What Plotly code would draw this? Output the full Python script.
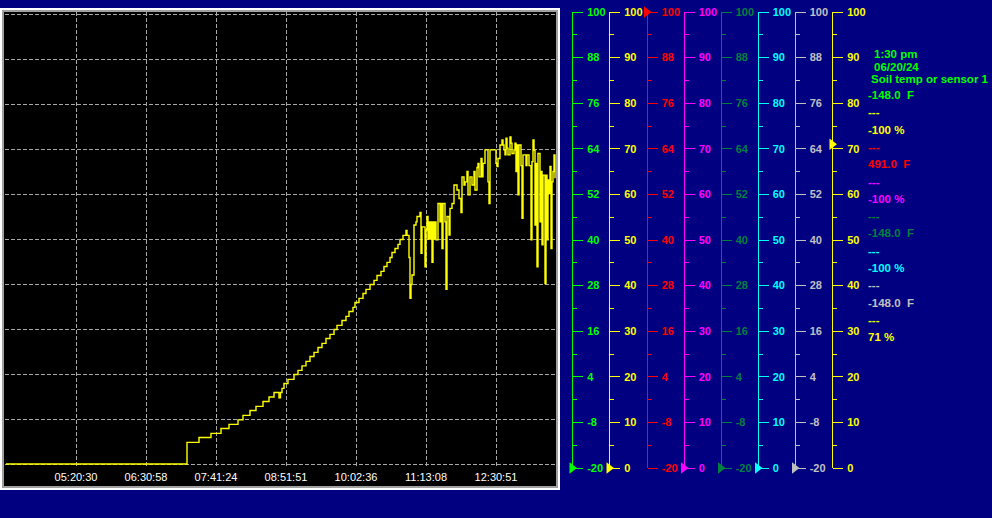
import plotly.graph_objects as go

W, H = 992, 518

# ---------------- data ----------------
# logged sensor trace (sample index, value on the 0-100 scale)
sample = [0, 181, 193, 205, 215, 223, 232, 237, 244, 250, 257, 263, 268, 273, 274.5, 276, 278, 282,
          288, 292, 296, 300, 304, 308, 312, 316, 320, 324, 328, 331, 336, 340, 343, 347, 349, 353,
          357, 360, 364, 368, 371, 375, 378, 381, 384, 386, 389, 392, 394, 397, 400, 401, 403, 404,
          405, 406, 408, 410, 411, 414, 415, 416, 419, 420, 421, 422, 423, 424, 425, 426, 427, 428,
          429, 430, 432, 434, 435, 436, 437, 439, 440, 441, 443, 444, 446, 448, 451, 453, 455, 456,
          458, 459, 461, 462, 464, 466, 468, 469, 471, 472, 473, 475, 476, 477, 479, 482, 483, 484,
          490, 491, 492, 494, 496, 497, 498, 499, 500, 501, 502, 504, 505, 506, 508, 509, 510, 511,
          512, 513, 515, 516, 517, 520, 521, 523, 525, 526, 527, 528, 529, 530, 531, 532, 534, 535,
          536, 537, 539, 540, 541, 542, 543, 544, 545, 546, 547, 548, 549]
value = [0, 4.8, 5.9, 6.8, 7.9, 8.8, 9.8, 10.8, 11.9, 12.8, 13.9, 14.9, 15.9, 14.7, 15.9, 16.8, 17.9, 18.8,
         19.9, 20.8, 21.8, 22.8, 23.9, 24.8, 25.9, 26.8, 27.9, 28.8, 29.9, 30.8, 31.9, 32.8, 33.9, 34.8, 35.9, 36.8,
         37.9, 38.8, 39.9, 40.8, 41.9, 42.8, 43.9, 44.8, 45.9, 47.0, 47.9, 48.8, 49.9, 50.8, 51.9, 50.8, 45.9, 36.8,
         39.9, 42.0, 53.1, 53.8, 55.0, 55.9, 46.8, 52.7, 43.8, 52.0, 55.0, 50.0, 53.8, 50.0, 53.8, 44.8, 53.8, 50.0,
         53.8, 49.8, 57.9, 53.8, 57.9, 47.9, 57.9, 53.8, 38.8, 55.0, 50.9, 56.8, 57.9, 62.0, 60.9, 59.0, 55.9, 63.8,
         62.0, 62.7, 65.0, 59.8, 63.8, 62.0, 65.0, 60.9, 65.9, 66.8, 63.8, 67.9, 63.8, 66.8, 69.8, 62.7, 57.9, 69.8,
         66.8, 66.1, 67.9, 70.9, 72.0, 70.9, 69.8, 68.7, 72.4, 70.2, 68.7, 72.7, 71.3, 69.0, 69.8, 71.3, 65.0, 70.9,
         59.8, 70.9, 66.3, 54.6, 68.7, 66.3, 68.7, 66.3, 49.8, 67.2, 72.0, 69.7, 53.1, 66.8, 43.8, 69.0, 53.8, 65.0,
         48.7, 64.2, 40.1, 64.2, 49.8, 63.1, 60.1, 66.1, 47.9, 62.7, 65.0, 68.7, 63.5]

x_tick_samples = [0, 70, 140, 210, 280, 350, 420, 490]
x_tick_labels = ["", "05:20:30", "06:30:58", "07:41:24", "08:51:51", "10:02:36", "11:13:08", "12:30:51"]
y_grid_values = [0, 10, 20, 30, 40, 50, 60, 70, 80, 90, 100]

clock_time = "1:30 pm"
clock_date = "06/20/24"
sensor_names = ["Soil temp or sensor 1", "---", "---", "---", "---", "---", "---", "---"]
sensor_values = [-148.0, -100, 491.0, -100, -148.0, -100, -148.0, 71]
sensor_units = ["F", "%", "F", "%", "F", "%", "F", "%"]
axis_min = [-20, 0, -20, 0, -20, 0, -20, 0]
axis_max = [100, 100, 100, 100, 100, 100, 100, 100]
axis_step = [12, 10, 12, 10, 12, 10, 12, 10]

# ---------------- styles / layout ----------------
sensor_colors = ["#00FF00", "#FFFF00", "#FF0000", "#FF00FF", "#008040", "#00FFFF", "#C0C0C0", "#FFFF00"]
axis_x_px = [572, 609, 646.5, 683.5, 720.5, 757.5, 794.5, 832]
NAVY = "#000080"
GRID = "#A8A8A8"


def px(x):
    return x / W


def py(y):
    return 1 - y / H


fig = go.Figure()

fig.add_trace(go.Scatter(x=sample, y=value, mode="lines",
                         line=dict(color="#FFFF00", width=1.4, shape="hv"),
                         xaxis="x", yaxis="y", hoverinfo="skip", showlegend=False))

layout = dict(
    width=W, height=H, margin=dict(l=0, r=0, t=0, b=0, pad=0, autoexpand=False),
    paper_bgcolor=NAVY, plot_bgcolor="rgba(0,0,0,0)", showlegend=False,
    xaxis=dict(domain=[px(5), px(556)], range=[-1, 550], anchor="y",
               tickmode="array", tickvals=x_tick_samples, ticktext=x_tick_labels,
               showgrid=True, gridcolor=GRID, gridwidth=1, griddash="4px,2px",
               zeroline=False, showline=False, ticks="", ticklabelstandoff=3,
               automargin=False,
               tickfont=dict(family="Liberation Sans", size=11, color="#FFFFFF")),
    yaxis=dict(domain=[py(466), py(12)], range=[-0.4444, 100.4444], anchor="x",
               tickmode="array", tickvals=y_grid_values, showticklabels=False,
               showgrid=True, gridcolor=GRID, gridwidth=1, griddash="4px,2px",
               zeroline=False, showline=False, ticks="", automargin=False),
    xaxis2=dict(domain=[0, 1], range=[0, 1], anchor="y2", visible=False, showgrid=False,
                automargin=False),
)

for i in range(8):
    c = sensor_colors[i]
    name = f"yaxis{i + 2}"
    n_ticks = int(round((axis_max[i] - axis_min[i]) / axis_step[i]))
    tv = [axis_min[i] + k * axis_step[i] for k in range(n_ticks + 1)]
    ax = dict(range=[axis_min[i], axis_max[i]], anchor="free", position=px(axis_x_px[i]),
              side="right", showgrid=False, zeroline=False, automargin=False,
              showline=True, linecolor=c, linewidth=1,
              ticks="outside", ticklen=10, tickwidth=1, tickcolor=c,
              tickmode="array", tickvals=tv, ticktext=[str(t) for t in tv],
              ticklabelstandoff=2,
              tickfont=dict(family="Liberation Sans", size=11, color=c, weight="bold"),
              minor=dict(ticks="outside", ticklen=4, tickwidth=1, tickcolor=c,
                         tickmode="linear", tick0=axis_min[i], dtick=axis_step[i] / 2,
                         showgrid=False))
    if i == 0:
        ax["domain"] = [py(468), py(12)]
    else:
        ax["overlaying"] = "y2"
    layout[name] = ax
    clamped = min(max(sensor_values[i], axis_min[i]), axis_max[i])
    fig.add_trace(go.Scatter(x=[px(axis_x_px[i])], y=[clamped], mode="markers",
                             marker=dict(symbol="triangle-right", size=10, color=c),
                             xaxis="x2", yaxis=f"y{i + 2}", cliponaxis=False,
                             hoverinfo="skip", showlegend=False))

# chart frame
shapes = [
    dict(type="rect", xref="paper", yref="paper", x0=px(0), x1=px(560), y0=py(490), y1=py(8),
         fillcolor="#FFFFFF", line=dict(width=0), layer="below"),
    dict(type="rect", xref="paper", yref="paper", x0=px(2), x1=px(558), y0=py(488), y1=py(10),
         fillcolor="#A0A0A0", line=dict(width=0), layer="below"),
    dict(type="rect", xref="paper", yref="paper", x0=px(4), x1=px(556), y0=py(486), y1=py(12),
         fillcolor="#000000", line=dict(width=0), layer="below"),
]
layout["shapes"] = shapes

# status text block
annotations = []
font_b = dict(family="Liberation Sans", size=11.5, weight="bold")


def add_text(text, x, y, color):
    annotations.append(dict(text=text, xref="paper", yref="paper", x=px(x), y=py(y),
                            xanchor="left", yanchor="middle", showarrow=False,
                            font=dict(font_b, color=color)))


add_text(clock_time, 872, 54.5, sensor_colors[0])
add_text(clock_date, 872, 67, sensor_colors[0])
add_text(sensor_names[0], 868.5, 79.5, sensor_colors[0])
for i in range(8):
    v = sensor_values[i]
    if sensor_units[i] == "F":
        txt = f"{v:.1f}\u00a0\u00a0{sensor_units[i]}"
    else:
        txt = f"{int(v)} {sensor_units[i]}"
    y_val = 95 + 34.6 * i
    if i > 0:
        add_text(sensor_names[i], 866, y_val - 17.3, sensor_colors[i])
    add_text(txt, 866, y_val, sensor_colors[i])
layout["annotations"] = annotations

fig.update_layout(**layout)

fig.write_html("out.html", config={"displayModeBar": False},
               post_script="document.body.style.margin='0';")
